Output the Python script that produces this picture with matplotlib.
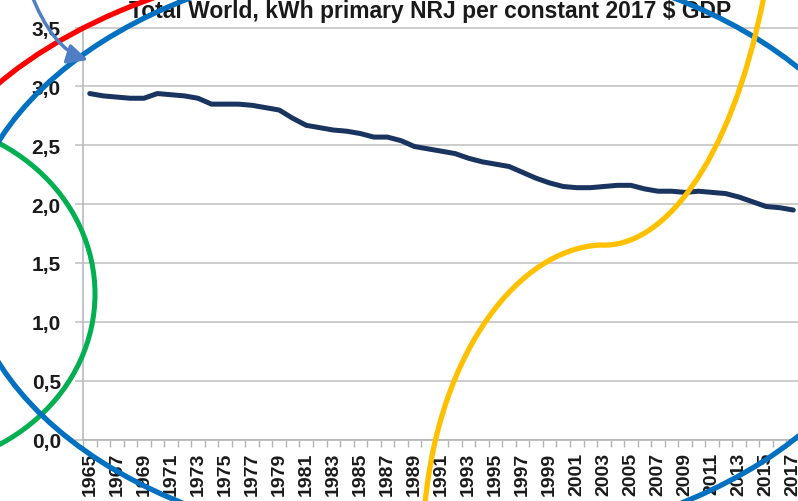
import numpy as np
import matplotlib.pyplot as plt
from matplotlib.patches import Ellipse, Arc, FancyArrowPatch, PathPatch
from matplotlib.path import Path

plt.rcParams['font.family'] = ['Liberation Sans', 'DejaVu Sans']

# energy intensity of world GDP
years = list(range(1965, 2018))
intensity = [2.94, 2.92, 2.91, 2.90, 2.90, 2.94, 2.93, 2.92, 2.90, 2.85,
             2.85, 2.85, 2.84, 2.82, 2.80, 2.73, 2.67, 2.65, 2.63, 2.62,
             2.60, 2.57, 2.57, 2.54, 2.49, 2.47, 2.45, 2.43, 2.39, 2.36,
             2.34, 2.32, 2.27, 2.22, 2.18, 2.15, 2.14, 2.14, 2.15, 2.16,
             2.16, 2.13, 2.11, 2.11, 2.10, 2.11, 2.10, 2.09, 2.06, 2.02,
             1.98, 1.97, 1.95]
y_ticks = [0.0, 0.5, 1.0, 1.5, 2.0, 2.5, 3.0, 3.5]
title = 'Total World, kWh primary NRJ per constant 2017 $ GDP'

W, H = 798, 502
fig = plt.figure(figsize=(W / 100, H / 100), dpi=100)
ax = fig.add_axes([83 / W, 1 - 440.5 / H, 717 / W, (440.5 - 28.3) / H])

x = np.arange(len(years))
ax.plot(x, intensity, color='#18345f', lw=3.6, solid_capstyle='round',
        solid_joinstyle='round', zorder=3)

ax.set_xlim(-0.5, len(years) - 0.5)
ax.set_ylim(0, 3.503)
ax.set_yticks(y_ticks)
ax.set_yticklabels([f'{v:.1f}'.replace('.', ',') for v in y_ticks],
                   fontsize=15, fontweight='bold', color='#1a1a1a')
ax.yaxis.grid(True, color='#c8c8c8', lw=1.3)
ax.set_axisbelow(True)

ax.set_xticks(x[::2])
ax.set_xticklabels([str(y) for y in years[::2]], rotation=90,
                   fontsize=14, fontweight='bold', color='#1a1a1a')
ax.set_xticks(np.arange(-0.5, len(years)), minor=True)
ax.tick_params(axis='x', which='major', length=0, pad=9)
ax.tick_params(axis='x', which='minor', length=5, color='#b4b4b4', width=1)
ax.tick_params(axis='y', length=6, color='#c8c8c8', width=1.3, pad=10)

for s in ['top', 'right']:
    ax.spines[s].set_visible(False)
ax.spines['left'].set_color('#b8b8c8')
ax.spines['bottom'].set_color('#b4b4b4')
ax.spines['left'].set_linewidth(1.2)
ax.spines['bottom'].set_linewidth(1.2)

# overlay in pixel coords for the hand-drawn marks
ov = fig.add_axes([0, 0, 1, 1])
ov.set_xlim(0, W)
ov.set_ylim(0, H)
ov.axis('off')


def img(px, py):
    return (px, H - py)


ov.text(430, H - 18, title, ha='center', va='baseline', fontsize=16.5,
        fontweight='bold', color='#1a1a1a', zorder=1)

ov.add_patch(Arc(img(432, 250), 1044, 594, theta1=105, theta2=165,
                 ec='#ff0000', lw=3.8, zorder=2))
ov.add_patch(Ellipse(img(-100, 295), 390, 350, fill=False,
                     ec='#00b050', lw=3.6, zorder=2))
ov.add_patch(Ellipse(img(432, 253), 934, 594, fill=False,
                     ec='#0070c0', lw=3.8, zorder=3))

s_curve = Path([img(425, 505), img(440, 350), img(520, 250), img(600, 246),
                img(660, 250), img(730, 170), img(764, -3)],
               [Path.MOVETO, Path.CURVE4, Path.CURVE4, Path.CURVE4,
                Path.CURVE4, Path.CURVE4, Path.CURVE4])
ov.add_patch(PathPatch(s_curve, fill=False, ec='#ffc000', lw=3.8, zorder=4))

arrow_path = Path([img(30, -8), img(52, 50), img(88, 61)],
                  [Path.MOVETO, Path.CURVE3, Path.CURVE3])
ov.add_patch(FancyArrowPatch(path=arrow_path,
                             arrowstyle='-|>,head_length=0.45,head_width=0.22',
                             mutation_scale=27, lw=2.5, color='#4f7ec4',
                             zorder=5))

fig.savefig('out.png', dpi=100)
